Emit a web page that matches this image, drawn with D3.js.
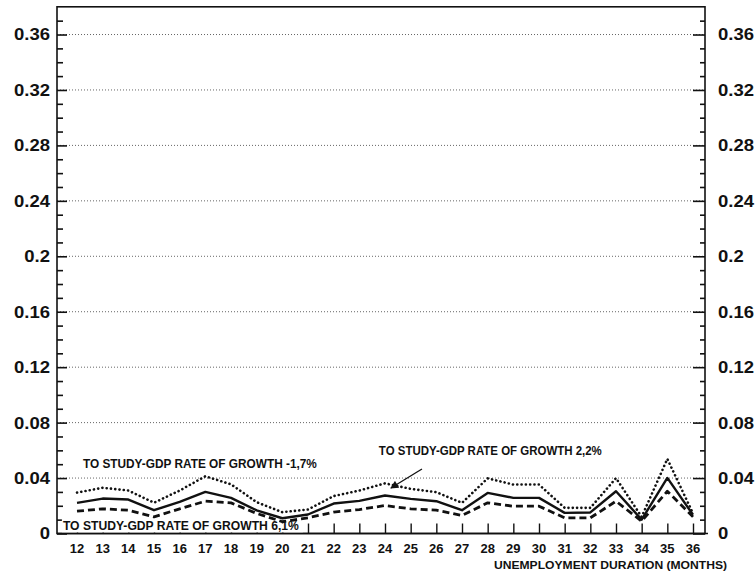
<!DOCTYPE html>
<html>
<head>
<meta charset="utf-8">
<script src="https://cdn.jsdelivr.net/npm/d3@7"></script>
<style>
  body { margin: 0; background: #fff; }
  svg { display: block; }
  text { font-family: "Liberation Sans", Arial, Helvetica, sans-serif; fill: #111; }
</style>
</head>
<body>
<svg id="chart" width="755" height="575"></svg>
<script>
// Unemployment duration in months
const months = [12, 13, 14, 15, 16, 17, 18, 19, 20, 21, 22, 23, 24,
                25, 26, 27, 28, 29, 30, 31, 32, 33, 34, 35, 36];

// Transition rate to study, by GDP rate of growth scenario
const growthMinus17 = [0.0295, 0.0330, 0.0310, 0.0222, 0.0310, 0.0413, 0.0355, 0.0226, 0.0154,
                       0.0173, 0.0270, 0.0310, 0.0362, 0.0322, 0.0298, 0.0221, 0.0398, 0.0353,
                       0.0353, 0.0185, 0.0185, 0.0400, 0.0120, 0.0538, 0.0145];
const growth22 = [0.0221, 0.0252, 0.0245, 0.0168, 0.0228, 0.0300, 0.0257, 0.0167, 0.0110,
                  0.0137, 0.0216, 0.0235, 0.0274, 0.0250, 0.0233, 0.0168, 0.0293, 0.0257,
                  0.0257, 0.0149, 0.0152, 0.0305, 0.0100, 0.0401, 0.0135];
const growth61 = [0.0161, 0.0178, 0.0168, 0.0120, 0.0178, 0.0233, 0.0221, 0.0145, 0.0085,
                  0.0113, 0.0154, 0.0173, 0.0202, 0.0178, 0.0168, 0.0130, 0.0221, 0.0197,
                  0.0197, 0.0113, 0.0113, 0.0233, 0.0089, 0.0305, 0.0120];

const yMajorTicks = [0, 0.04, 0.08, 0.12, 0.16, 0.2, 0.24, 0.28, 0.32, 0.36];
const yTickLabels = ["0", "0.04", "0.08", "0.12", "0.16", "0.2", "0.24", "0.28", "0.32", "0.36"];
const yMinorTicks = [0.01, 0.02, 0.03, 0.05, 0.06, 0.07, 0.09, 0.10, 0.11, 0.13, 0.14, 0.15,
                     0.17, 0.18, 0.19, 0.21, 0.22, 0.23, 0.25, 0.26, 0.27, 0.29, 0.30, 0.31,
                     0.33, 0.34, 0.35, 0.37];

const seriesLabels = [
  "TO STUDY-GDP RATE OF GROWTH -1,7%",
  "TO STUDY-GDP RATE OF GROWTH 2,2%",
  "TO STUDY-GDP RATE OF GROWTH 6,1%"
];

const svg = d3.select("#chart");
const plotLeft = 57, plotRight = 705, plotTop = 6.8, plotBottom = 533.5;

const x = d3.scaleLinear().domain([12, 36]).range([77, 693]);
const y = d3.scaleLinear().domain([0, 0.38]).range([plotBottom, plotTop]);

// dotted gridlines at labelled values
svg.append("g").selectAll("line")
  .data(yMajorTicks.filter(d => d > 0))
  .join("line")
  .attr("x1", plotLeft).attr("x2", plotRight)
  .attr("y1", d => y(d)).attr("y2", d => y(d))
  .attr("stroke", "#666").attr("stroke-width", 1)
  .attr("stroke-dasharray", "1 2");

// frame
svg.append("rect")
  .attr("x", plotLeft).attr("y", plotTop)
  .attr("width", plotRight - plotLeft).attr("height", plotBottom - plotTop)
  .attr("fill", "none").attr("stroke", "#111").attr("stroke-width", 1.6);

// left axis: ticks point inward
const leftMajor = d3.axisRight(y).tickValues(yMajorTicks).tickSize(10).tickFormat("");
const leftMinor = d3.axisRight(y).tickValues(yMinorTicks).tickSize(6).tickFormat("");
[leftMajor, leftMinor].forEach(ax => {
  const g = svg.append("g").attr("transform", `translate(${plotLeft},0)`).call(ax);
  g.select(".domain").remove();
  g.selectAll("line").attr("stroke", "#111").attr("stroke-width", 1.6);
});
// right axis: ticks point inward
const rightMajor = d3.axisLeft(y).tickValues(yMajorTicks).tickSize(12).tickFormat("");
const rightMinor = d3.axisLeft(y).tickValues(yMinorTicks).tickSize(5).tickFormat("");
[rightMajor, rightMinor].forEach(ax => {
  const g = svg.append("g").attr("transform", `translate(${plotRight},0)`).call(ax);
  g.select(".domain").remove();
  g.selectAll("line").attr("stroke", "#111").attr("stroke-width", 1.6);
});

// value labels on both sides, set slightly wide
const labelG = svg.append("g").attr("font-size", 16.5).attr("font-weight", "bold");
labelG.selectAll("text.l")
  .data(yMajorTicks)
  .join("text").attr("class", "l")
  .attr("x", 50).attr("y", d => y(d)).attr("dy", "0.36em")
  .attr("text-anchor", "end")
  .text((d, i) => yTickLabels[i]);
labelG.selectAll("text.r")
  .data(yMajorTicks)
  .join("text").attr("class", "r")
  .attr("x", 718).attr("y", d => y(d)).attr("dy", "0.36em")
  .attr("text-anchor", "start")
  .text((d, i) => yTickLabels[i]);
labelG.selectAll("text").each(function () {
  const w = this.getComputedTextLength();
  d3.select(this).attr("textLength", w * 1.12).attr("lengthAdjust", "spacingAndGlyphs");
});

// bottom axis: ticks point up, labels below
const xAxis = d3.axisTop(x).tickValues(months).tickSize(10).tickFormat("");
const xg = svg.append("g").attr("transform", `translate(0,${plotBottom})`).call(xAxis);
xg.select(".domain").remove();
xg.selectAll("line").attr("stroke", "#111").attr("stroke-width", 1.4);

svg.append("g").selectAll("text")
  .data(months)
  .join("text")
  .attr("x", d => x(d)).attr("y", 553)
  .attr("text-anchor", "middle")
  .attr("font-size", 13).attr("font-weight", "bold")
  .text(d => d);

svg.append("text")
  .attr("x", 494).attr("y", 569)
  .attr("font-size", 11).attr("font-weight", "bold")
  .attr("textLength", 233).attr("lengthAdjust", "spacingAndGlyphs")
  .text("UNEMPLOYMENT DURATION (MONTHS)");

// white box behind the bottom label hides the axis ticks it sits on
const lab3x = x(11.45), lab3y = y(0.0025);
svg.append("rect")
  .attr("x", lab3x - 1).attr("y", lab3y - 11)
  .attr("width", 241).attr("height", plotBottom - lab3y + 10)
  .attr("fill", "#fff");
svg.append("line")
  .attr("x1", plotLeft).attr("x2", plotRight + 3)
  .attr("y1", plotBottom).attr("y2", plotBottom)
  .attr("stroke", "#111").attr("stroke-width", 1.6);

// series lines
const line = d3.line().x(d => x(d[0])).y(d => y(d[1]));
const series = [
  { values: growthMinus17, dash: "0.1 4.2", width: 2.6, cap: "round" },
  { values: growth22, dash: null, width: 2.4, cap: "butt" },
  { values: growth61, dash: "7 4", width: 2.8, cap: "butt" }
];
series.forEach(s => {
  svg.append("path")
    .datum(months.map((m, i) => [m, s.values[i]]))
    .attr("d", line)
    .attr("fill", "none")
    .attr("stroke", "#111")
    .attr("stroke-width", s.width)
    .attr("stroke-linecap", s.cap)
    .attr("stroke-linejoin", "round")
    .attr("stroke-dasharray", s.dash);
});

// annotations
const annG = svg.append("g").attr("font-size", 12.5).attr("font-weight", "bold");
annG.append("text")
  .attr("x", x(12.23)).attr("y", y(0.0473))
  .attr("textLength", 234).attr("lengthAdjust", "spacingAndGlyphs")
  .text(seriesLabels[0]);

annG.append("text")
  .attr("x", x(23.76)).attr("y", y(0.0566))
  .attr("textLength", 223).attr("lengthAdjust", "spacingAndGlyphs")
  .text(seriesLabels[1]);

annG.append("text")
  .attr("x", lab3x).attr("y", lab3y)
  .attr("textLength", 236).attr("lengthAdjust", "spacingAndGlyphs")
  .text(seriesLabels[2]);

// arrow pointing from the 2,2% label to its curve
svg.append("defs").append("marker")
  .attr("id", "arrow").attr("viewBox", "0 0 10 10")
  .attr("refX", 9).attr("refY", 5)
  .attr("markerWidth", 11).attr("markerHeight", 8)
  .attr("markerUnits", "userSpaceOnUse")
  .attr("orient", "auto")
  .append("path").attr("d", "M0,0 L10,5 L0,10 Z").attr("fill", "#111");
svg.append("line")
  .attr("x1", x(25.44)).attr("y1", y(0.0465))
  .attr("x2", x(24.23)).attr("y2", y(0.0328))
  .attr("stroke", "#111").attr("stroke-width", 1.3)
  .attr("marker-end", "url(#arrow)");
</script>
</body>
</html>
